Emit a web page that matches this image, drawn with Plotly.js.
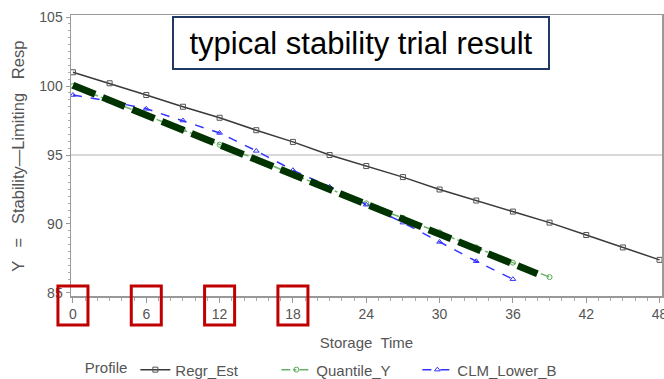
<!DOCTYPE html>
<html>
<head>
<meta charset="utf-8">
<script src="https://cdn.plot.ly/plotly-3.0.1.min.js"></script>
<style>
html,body{margin:0;padding:0;background:#fff;}
#chart{width:664px;height:379px;}
</style>
</head>
<body>
<div id="chart"></div>
<script>
// Data
const regrTime = [0,3,6,9,12,15,18,21,24,27,30,33,36,39,42,45,48];
const regrEst  = [101.0,100.2,99.35,98.5,97.7,96.8,95.95,95.0,94.2,93.4,92.5,91.7,90.9,90.1,89.2,88.3,87.4];

const quantTime = [0,3,6,9,12,15,18,21,24,27,30,33,36,39];
const quantileY = [100.0,98.95,97.9,96.85,95.75,94.7,93.6,92.55,91.5,90.45,89.4,88.3,87.2,86.15];

const clmTime = [0,3,6,9,12,15,18,21,24,27,30,33,36];
const clmLowerB = [99.35,98.9,98.35,97.5,96.6,95.3,93.9,92.7,91.4,90.1,88.7,87.3,86.0];

// hand-drawn overlay line (slide annotation)
const overlayTime = [0,38];
const overlayVal  = [100.05,86.4];

const highlightTicks = [0,6,12,18];
const xTicks = [0,6,12,18,24,30,36,42,48];
const yTicks = [85,90,95,100,105];
const specLimit = 95;

const xRange = [-0.16, 48.2];
const yRange = [84.78, 105.15];

const gray = '#555555';
const font = 'Liberation Sans, Arial, sans-serif';

const traces = [
  {x: regrTime, y: regrEst, name: 'Regr_Est', mode: 'lines+markers',
   line: {color: '#3a3a3a', width: 1.5},
   marker: {symbol: 'square-open', size: 5, color: '#555555', line: {width: 1}}},
  {x: quantTime, y: quantileY, name: 'Quantile_Y', mode: 'lines+markers',
   line: {color: '#66b366', width: 1.5, dash: 'dashdot'},
   marker: {symbol: 'circle-open', size: 5, color: '#55aa55', line: {width: 1}}},
  {x: clmTime, y: clmLowerB, name: 'CLM_Lower_B', mode: 'lines+markers',
   line: {color: '#3333ff', width: 1.5, dash: 'dash'},
   marker: {symbol: 'triangle-up-open', size: 5, color: '#3333ff', line: {width: 1}}},
  {x: overlayTime, y: overlayVal, mode: 'lines', showlegend: false, hoverinfo: 'skip',
   line: {color: '#003300', width: 7, dash: '24px,8px'}}
];

const toPaperX = v => (v - xRange[0]) / (xRange[1] - xRange[0]);
const shapes = [
  {type: 'line', xref: 'paper', yref: 'y', x0: 0, x1: 1, y0: specLimit, y1: specLimit,
   line: {color: '#cccccc', width: 1.5}, layer: 'below'}
];
highlightTicks.forEach(t => {
  const c = toPaperX(t);
  shapes.push({type: 'rect', xref: 'paper', yref: 'paper', x0: c - 0.0254, x1: c + 0.0254,
    y0: -0.103, y1: 0.036, line: {color: '#c00000', width: 3}, fillcolor: 'rgba(0,0,0,0)'});
});

const layout = {
  width: 664, height: 379,
  margin: {l: 71, r: 2, t: 15, b: 83, autoexpand: false},
  paper_bgcolor: '#ffffff', plot_bgcolor: '#ffffff',
  font: {family: font, color: gray, size: 14},
  showlegend: true,
  xaxis: {
    range: xRange, tickvals: xTicks, ticktext: xTicks.map(String), automargin: false,
    showgrid: false, zeroline: false, showline: true, linecolor: '#999999', linewidth: 1.5, mirror: true,
    ticks: 'outside', ticklen: 5, tickcolor: '#999999', ticklabelstandoff: 0, ticklabeloverflow: 'allow',
    minor: {dtick: 1, ticks: 'outside', ticklen: 3, tickcolor: '#aaaaaa'},
    tickfont: {size: 14, color: gray},
    title: {text: 'Storage  Time', font: {size: 15, color: gray}, standoff: 16}
  },
  yaxis: {
    range: yRange, tickvals: yTicks, ticktext: yTicks.map(String), automargin: false,
    showgrid: false, zeroline: false, showline: true, linecolor: '#999999', linewidth: 1.5, mirror: true,
    ticks: 'outside', ticklen: 4, tickcolor: '#999999',
    minor: {dtick: 0.5, ticks: 'outside', ticklen: 2, tickcolor: '#aaaaaa'},
    tickfont: {size: 14, color: gray}
  },
  legend: {
    orientation: 'h', x: 0.02, xanchor: 'left', y: -0.263, yanchor: 'middle',
    title: {text: 'Profile', side: 'left', font: {size: 15, color: gray}},
    font: {size: 15, color: gray}, itemwidth: 30,
    entrywidth: 96, entrywidthmode: 'pixels', bgcolor: 'rgba(0,0,0,0)'
  },
  annotations: [
    {text: 'typical stability trial result', xref: 'paper', yref: 'paper',
     x: 0.4907, y: 0.9004, xanchor: 'center', yanchor: 'middle', showarrow: false,
     font: {size: 31, color: '#000000', family: font},
     bgcolor: '#ffffff', bordercolor: '#1f3864', borderwidth: 2, borderpad: 6,
     width: 362, height: 38},
    {text: 'Y   =   Stability\u2014Limiting   Resp', xref: 'paper', yref: 'paper',
     x: -0.09, y: 0.498, xanchor: 'center', yanchor: 'middle', showarrow: false,
     textangle: -90, font: {size: 16.5, color: gray, family: font}}
  ],
  shapes: shapes
};

Plotly.newPlot('chart', traces, layout, {displayModeBar: false, staticPlot: true});
</script>
</body>
</html>
